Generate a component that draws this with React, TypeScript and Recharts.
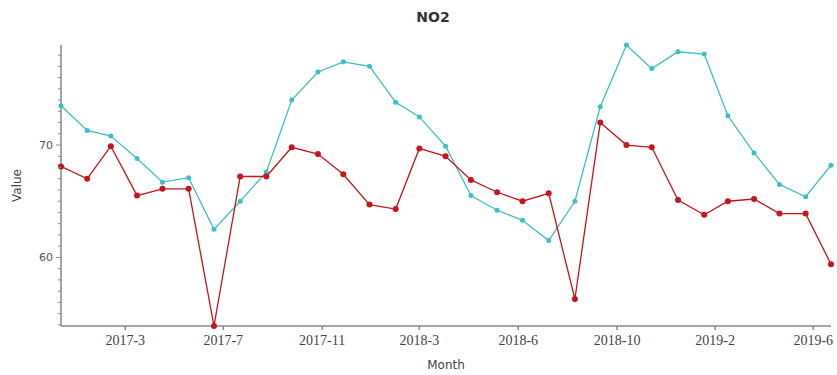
import { LineChart, Line, XAxis, YAxis } from "recharts";

const MONTHS = [
  "2017-01", "2017-02", "2017-03", "2017-04", "2017-05", "2017-06", "2017-07", "2017-08",
  "2017-09", "2017-10", "2017-11", "2017-12", "2018-01", "2018-02", "2018-03", "2018-04",
  "2018-05", "2018-06", "2018-07", "2018-08", "2018-09", "2018-10", "2018-11", "2018-12",
  "2019-01", "2019-02", "2019-03", "2019-04", "2019-05", "2019-06", "2019-07",
];

const CYAN_VALUES = [
  73.5, 71.3, 70.8, 68.8, 66.7, 67.1, 62.5, 65.0, 67.6, 74.0, 76.5,
  77.4, 77.0, 73.8, 72.5, 69.9, 65.5, 64.2, 63.3, 61.5, 65.0,
  73.4, 78.9, 76.8, 78.3, 78.1, 72.6, 69.3, 66.5, 65.4, 68.2,
];

const RED_VALUES = [
  68.1, 67.0, 69.9, 65.5, 66.1, 66.1, 53.9, 67.2, 67.2, 69.8, 69.2,
  67.4, 64.7, 64.3, 69.7, 69.0, 66.9, 65.8, 65.0, 65.7, 56.3,
  72.0, 70.0, 69.8, 65.1, 63.8, 65.0, 65.2, 63.9, 63.9, 59.4,
];

const X_TICK_DATES = [
  "2017-03-18", "2017-07-12", "2017-11-06", "2018-03-01",
  "2018-06-26", "2018-10-21", "2019-02-14", "2019-06-10",
];

const Y_TICKS = [54, 55, 56, 57, 58, 59, 60, 61, 62, 63, 64, 65, 66, 67, 68, 69, 70, 71, 72, 73, 74, 75, 76, 77, 78];

function toTime(s: string) {
  const [y, m, d] = s.split("-").map(Number);
  return Date.UTC(y, m - 1, d || 1);
}

function fmtMonth(t: number) {
  const d = new Date(t);
  return `${d.getUTCFullYear()}-${d.getUTCMonth() + 1}`;
}

const data = MONTHS.map((m, i) => ({ t: toTime(m), cyan: CYAN_VALUES[i], red: RED_VALUES[i] }));
const xTicks = X_TICK_DATES.map(toTime);

function YTick(props: any) {
  const { x, y, payload } = props;
  const major = payload.value % 10 === 0;
  return (
    <g>
      <line x1={x - (major ? 5 : 3)} x2={x} y1={y} y2={y} stroke="#8a8a8a" strokeWidth={1} />
      {major && (
        <text x={x - 8} y={y} dy={4} textAnchor="end" fontSize={11} fontFamily="DejaVu Sans" fill="#555">
          {payload.value}
        </text>
      )}
    </g>
  );
}

export default function App() {
  return (
    <div style={{ position: "relative", width: 837, height: 375, background: "#fff" }}>
      <style>{`body { margin: 0; }`}</style>
      <div
        style={{
          position: "absolute", top: 9, left: 0, width: 866, textAlign: "center",
          fontFamily: "DejaVu Sans", fontWeight: 700, fontSize: 14, color: "#333",
        }}
      >
        NO2
      </div>
      <LineChart width={837} height={375} data={data} margin={{ top: 45, right: 6, bottom: 9, left: 0 }}>
        <XAxis
          dataKey="t"
          type="number"
          domain={["dataMin", "dataMax"]}
          ticks={xTicks}
          tickFormatter={fmtMonth}
          height={40}
          stroke="#888"
          strokeWidth={1.5}
          tickSize={4}
          tickMargin={5}
          tick={{ fill: "#444", fontSize: 14, fontFamily: "Liberation Serif" }}
          label={{ value: "Month", position: "insideBottom", offset: -3, fill: "#444", fontSize: 12, fontFamily: "DejaVu Sans" }}
        />
        <YAxis
          type="number"
          domain={["dataMin", "dataMax"]}
          ticks={Y_TICKS}
          interval={0}
          width={61}
          stroke="#888"
          strokeWidth={1.5}
          tickSize={0}
          tickMargin={0}
          tick={<YTick />}
          label={{ value: "Value", angle: -90, position: "insideLeft", offset: 17, fill: "#444", fontSize: 12, fontFamily: "DejaVu Sans", style: { textAnchor: "middle" } }}
        />
        <Line
          dataKey="cyan"
          stroke="#3cbfc6"
          strokeWidth={1.3}
          dot={{ r: 2.5, fill: "#3cbfc6", stroke: "none" }}
          isAnimationActive={false}
        />
        <Line
          dataKey="red"
          stroke="#c4161c"
          strokeWidth={1.3}
          dot={{ r: 3, fill: "#c4161c", stroke: "none" }}
          isAnimationActive={false}
        />
      </LineChart>
    </div>
  );
}
